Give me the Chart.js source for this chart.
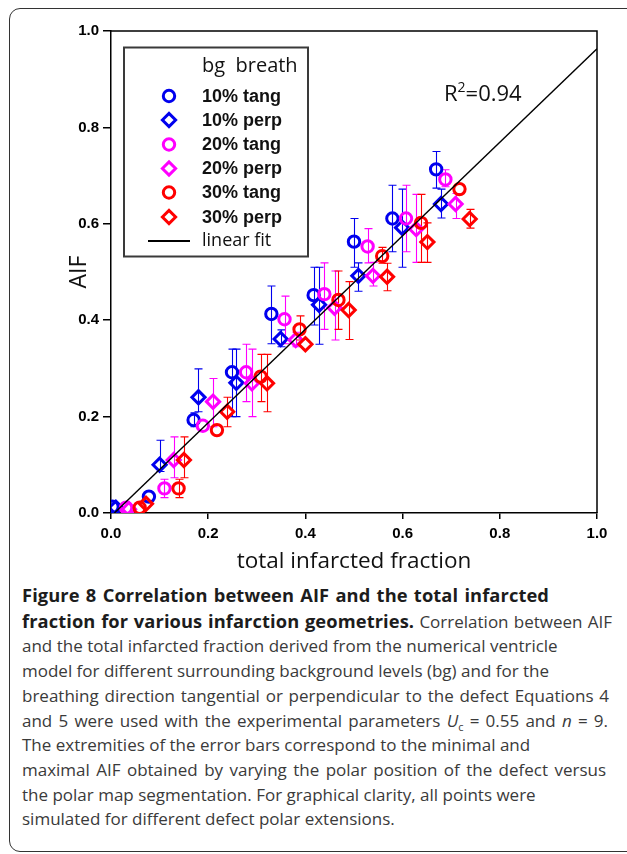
<!DOCTYPE html>
<html>
<head>
<meta charset="utf-8">
<script src="https://cdn.jsdelivr.net/npm/chart.js@4.4.1/dist/chart.umd.min.js"></script>
<style>
  html, body { margin: 0; padding: 0; background: #fff; width: 627px; height: 854px; overflow: hidden; }
  #frame { position: absolute; left: 9px; top: 8px; width: 700px; height: 842px; border: 1px solid #333; border-radius: 11px; }
  #wrap { position: absolute; left: 0; top: 0; width: 627px; height: 580px; }
  #caption { position: absolute; left: 22px; top: 583px; font-family: "Open Sans", Lato, sans-serif; font-size: 17px;
             line-height: 24.7px; color: #3a3a3a; white-space: nowrap; }
  #caption > div { width: max-content; }
  #caption b { color: #1c1c1c; font-size: 18.3px; font-weight: 700; letter-spacing: 0.1px; }
  #caption sub { font-size: 11px; line-height: 0; }
</style>
</head>
<body>
<div id="frame"></div>
<div id="wrap"><canvas id="chart"></canvas></div>
<div id="caption">
  <div><b>Figure 8 Correlation between AIF and the total infarcted</b></div>
  <div><b>fraction for various infarction geometries.</b> Correlation between AIF</div>
  <div>and the total infarcted fraction derived from the numerical ventricle</div>
  <div>model for different surrounding background levels (bg) and for the</div>
  <div>breathing direction tangential or perpendicular to the defect Equations 4</div>
  <div>and 5 were used with the experimental parameters <i>U</i><sub>c</sub> = 0.55 and <i>n</i> = 9.</div>
  <div>The extremities of the error bars correspond to the minimal and</div>
  <div>maximal AIF obtained by varying the polar position of the defect versus</div>
  <div>the polar map segmentation. For graphical clarity, all points were</div>
  <div>simulated for different defect polar extensions.</div>
</div>
<script>
// AIF versus total infarcted fraction, one series per background level / breathing direction.
// Each series: x, y, and the min / max AIF (error bar ends).
const tang10X  = [0.003, 0.078, 0.170, 0.249, 0.330, 0.417, 0.500, 0.579, 0.669];
const tang10Y  = [0.013, 0.034, 0.193, 0.292, 0.413, 0.452, 0.563, 0.611, 0.713];
const tang10Lo = [0.013, 0.034, 0.179, 0.200, 0.351, 0.390, 0.510, 0.542, 0.674];
const tang10Hi = [0.013, 0.034, 0.208, 0.340, 0.471, 0.510, 0.611, 0.680, 0.750];

const perp10X  = [0.010, 0.100, 0.180, 0.258, 0.349, 0.428, 0.509, 0.599, 0.679];
const perp10Y  = [0.011, 0.100, 0.240, 0.270, 0.361, 0.432, 0.492, 0.592, 0.641];
const perp10Lo = [0.011, 0.086, 0.210, 0.200, 0.345, 0.350, 0.460, 0.510, 0.612];
const perp10Hi = [0.011, 0.151, 0.299, 0.340, 0.380, 0.510, 0.519, 0.672, 0.672];

const tang20X  = [0.031, 0.110, 0.189, 0.278, 0.357, 0.439, 0.528, 0.607, 0.688];
const tang20Y  = [0.011, 0.051, 0.181, 0.292, 0.402, 0.454, 0.553, 0.611, 0.692];
const tang20Lo = [0.011, 0.032, 0.181, 0.231, 0.351, 0.381, 0.519, 0.542, 0.677];
const tang20Hi = [0.011, 0.070, 0.181, 0.350, 0.450, 0.519, 0.590, 0.680, 0.712];

const perp20X  = [0.037, 0.129, 0.210, 0.290, 0.380, 0.460, 0.539, 0.628, 0.709];
const perp20Y  = [0.008, 0.110, 0.231, 0.269, 0.359, 0.426, 0.492, 0.589, 0.641];
const perp20Lo = [0.008, 0.073, 0.179, 0.200, 0.345, 0.359, 0.471, 0.520, 0.611];
const perp20Hi = [0.008, 0.158, 0.279, 0.340, 0.375, 0.502, 0.520, 0.661, 0.663];

const tang30X  = [0.059, 0.139, 0.218, 0.308, 0.388, 0.468, 0.558, 0.638, 0.717];
const tang30Y  = [0.011, 0.051, 0.172, 0.283, 0.381, 0.442, 0.533, 0.602, 0.672];
const tang30Lo = [0.011, 0.032, 0.172, 0.231, 0.359, 0.381, 0.518, 0.520, 0.672];
const tang30Hi = [0.011, 0.070, 0.172, 0.329, 0.409, 0.502, 0.551, 0.661, 0.672];

const perp30X  = [0.072, 0.150, 0.239, 0.321, 0.400, 0.489, 0.568, 0.651, 0.738];
const perp30Y  = [0.019, 0.110, 0.210, 0.269, 0.350, 0.421, 0.490, 0.562, 0.610];
const perp30Lo = [0.019, 0.073, 0.179, 0.210, 0.350, 0.360, 0.461, 0.520, 0.591];
const perp30Hi = [0.019, 0.158, 0.240, 0.329, 0.350, 0.480, 0.518, 0.602, 0.630];

// linear fit end points
const fitX = [0.007, 1.0];
const fitY = [0.0, 0.963];
const fitR2 = '0.94';

const seriesLabels = ['10% tang', '10% perp', '20% tang', '20% perp', '30% tang', '30% perp'];
const legendTitle = 'bg  breath';
const fitLabel = 'linear fit';
const xTickLabels = ['0.0', '0.2', '0.4', '0.6', '0.8', '1.0'];
const yTickLabels = ['0.0', '0.2', '0.4', '0.6', '0.8', '1.0'];
const xTitle = 'total infarcted fraction';
const yTitle = 'AIF';

const BLUE = '#0000ee', MAGENTA = '#ff00ff', RED = '#ff0000';

const pts = (xs, ys) => xs.map((x, i) => ({ x: x, y: ys[i] }));

const series = [
  { label: seriesLabels[0], x: tang10X, y: tang10Y, lo: tang10Lo, hi: tang10Hi, color: BLUE,    style: 'circle',  order: 6 },
  { label: seriesLabels[1], x: perp10X, y: perp10Y, lo: perp10Lo, hi: perp10Hi, color: BLUE,    style: 'rectRot', order: 5 },
  { label: seriesLabels[2], x: tang20X, y: tang20Y, lo: tang20Lo, hi: tang20Hi, color: MAGENTA, style: 'circle',  order: 4 },
  { label: seriesLabels[3], x: perp20X, y: perp20Y, lo: perp20Lo, hi: perp20Hi, color: MAGENTA, style: 'rectRot', order: 3 },
  { label: seriesLabels[4], x: tang30X, y: tang30Y, lo: tang30Lo, hi: tang30Hi, color: RED,     style: 'circle',  order: 2 },
  { label: seriesLabels[5], x: perp30X, y: perp30Y, lo: perp30Lo, hi: perp30Hi, color: RED,     style: 'rectRot', order: 1 }
];

const datasets = series.map(s => ({
  type: 'scatter',
  label: s.label,
  data: pts(s.x, s.y),
  errLo: s.lo,
  errHi: s.hi,
  pointStyle: s.style,
  pointRadius: s.style === 'circle' ? 5.7 : 6.6,
  pointHoverRadius: s.style === 'circle' ? 5.7 : 6.6,
  pointBorderWidth: 3,
  pointBackgroundColor: 'rgba(0,0,0,0)',
  borderColor: s.color,
  backgroundColor: 'rgba(0,0,0,0)',
  showLine: false,
  order: s.order
}));

datasets.push({
  type: 'line',
  label: fitLabel,
  data: pts(fitX, fitY),
  borderColor: '#000',
  borderWidth: 1.4,
  pointRadius: 0,
  fill: false,
  order: 0
});

// min/max bars behind the markers
const errorBars = {
  id: 'errorBars',
  beforeDatasetsDraw(chart) {
    const { ctx, scales: { x, y } } = chart;
    ctx.save();
    ctx.lineWidth = 1.1;
    chart.data.datasets.forEach(ds => {
      if (!ds.errLo) return;
      ctx.strokeStyle = ds.borderColor;
      ds.data.forEach((p, i) => {
        const lo = ds.errLo[i], hi = ds.errHi[i];
        if (lo === hi) return;
        const px = Math.round(x.getPixelForValue(p.x)) + 0.5;
        const pLo = y.getPixelForValue(lo), pHi = y.getPixelForValue(hi);
        ctx.beginPath();
        ctx.moveTo(px, pLo); ctx.lineTo(px, pHi);
        ctx.moveTo(px - 4, pLo); ctx.lineTo(px + 4, pLo);
        ctx.moveTo(px - 4, pHi); ctx.lineTo(px + 4, pHi);
        ctx.stroke();
      });
    });
    ctx.restore();
  }
};

function marker(ctx, style, cx, cy, r) {
  ctx.beginPath();
  if (style === 'circle') {
    ctx.arc(cx, cy, r, 0, Math.PI * 2);
  } else {
    ctx.moveTo(cx - r, cy); ctx.lineTo(cx, cy - r); ctx.lineTo(cx + r, cy); ctx.lineTo(cx, cy + r); ctx.closePath();
  }
  ctx.stroke();
}

// plot frame, legend box and R² note
const decorations = {
  id: 'decorations',
  afterDraw(chart) {
    const { ctx, chartArea: a } = chart;
    ctx.save();
    ctx.strokeStyle = '#000';
    ctx.lineWidth = 1.5;
    ctx.beginPath();
    ctx.moveTo(a.left, a.top); ctx.lineTo(a.right, a.top); ctx.lineTo(a.right, a.bottom);
    ctx.stroke();

    // legend
    ctx.strokeStyle = '#3a3a3a';
    ctx.lineWidth = 2;
    ctx.strokeRect(124, 47.5, 184, 209);
    ctx.fillStyle = '#111';
    ctx.textBaseline = 'middle';
    ctx.textAlign = 'left';
    ctx.font = '20px "Open Sans"';
    ctx.fillText(legendTitle, 202, 66);
    const rowY = [96, 120, 144.5, 168.5, 192.5, 217];
    ctx.font = 'bold 18px "Liberation Sans"';
    series.forEach((s, i) => {
      ctx.strokeStyle = s.color;
      ctx.lineWidth = 3;
      marker(ctx, s.style, 169, rowY[i], s.style === 'circle' ? 5.7 : 6.6);
      ctx.fillStyle = '#111';
      ctx.fillText(s.label, 202, rowY[i] + 1);
    });
    ctx.strokeStyle = '#000';
    ctx.lineWidth = 2;
    ctx.beginPath();
    ctx.moveTo(148, 241); ctx.lineTo(190, 241);
    ctx.stroke();
    ctx.font = '18px "Open Sans"';
    ctx.fillText(fitLabel, 202, 241);

    // R² annotation
    ctx.textBaseline = 'alphabetic';
    ctx.fillStyle = '#111';
    ctx.font = '22px "Open Sans"';
    let tx = 444;
    ctx.fillText('R', tx, 101);
    tx += ctx.measureText('R').width;
    ctx.font = '14px "Open Sans"';
    ctx.fillText('2', tx, 92);
    tx += ctx.measureText('2').width;
    ctx.font = '22px "Open Sans"';
    ctx.fillText('=' + fitR2, tx, 101);
    ctx.restore();
  }
};

const tickFont = { family: '"Liberation Sans", Arial, sans-serif', size: 15, weight: 'bold' };

new Chart(document.getElementById('chart'), {
  data: { datasets: datasets },
  options: {
    responsive: true,
    maintainAspectRatio: false,
    animation: false,
    layout: { padding: { left: 0, top: 31, right: 30, bottom: 0 } },
    plugins: { legend: { display: false }, tooltip: { enabled: false } },
    scales: {
      x: {
        type: 'linear', min: 0, max: 1,
        afterFit(scale) { scale.height = 67; },
        afterBuildTicks(scale) { scale.ticks = xTickLabels.map(t => ({ value: parseFloat(t) })); },
        ticks: { callback: (v, i) => xTickLabels[i], font: tickFont, color: '#000', padding: 6, maxRotation: 0 },
        grid: { drawOnChartArea: false, drawTicks: true, tickLength: 6, color: '#000', lineWidth: 1.5 },
        border: { display: true, color: '#000', width: 1.5 },
        title: { display: true, text: xTitle, color: '#111', font: { family: '"Open Sans"', size: 22.5 }, padding: { top: 0, bottom: 4.5 } }
      },
      y: {
        type: 'linear', min: 0, max: 1,
        afterFit(scale) { scale.width = 111; },
        afterBuildTicks(scale) { scale.ticks = yTickLabels.map(t => ({ value: parseFloat(t) })); },
        ticks: { callback: (v, i) => yTickLabels[i], font: tickFont, color: '#000', padding: 4 },
        grid: { drawOnChartArea: false, drawTicks: true, tickLength: 8, color: '#000', lineWidth: 1.5 },
        border: { display: true, color: '#000', width: 1.5 },
        title: { display: true, text: yTitle, color: '#111', font: { family: '"Open Sans"', size: 23 }, padding: { top: 66, bottom: 0 } }
      }
    }
  },
  plugins: [errorBars, decorations]
});

// caption lines: widen the word gaps of the long lines so they reach the right margin
// (null keeps a line at its natural width)
const captionLineEnds = [549, 612, null, null, 609, 608, null, 606, null, null];
function fitCaption() {
  const box = document.getElementById('caption');
  const left = box.getBoundingClientRect().left;
  Array.from(box.children).forEach((line, i) => {
    line.style.wordSpacing = '0px';
    if (captionLineEnds[i] == null) return;
    const natural = line.getBoundingClientRect().width;
    const gaps = (line.textContent.trim().match(/\s+/g) || []).length;
    if (!gaps) return;
    const extra = Math.max(-0.5, (captionLineEnds[i] - left - natural) / gaps);
    line.style.wordSpacing = extra.toFixed(2) + 'px';
  });
}
fitCaption();
if (document.fonts && document.fonts.ready) document.fonts.ready.then(fitCaption);
</script>
</body>
</html>
